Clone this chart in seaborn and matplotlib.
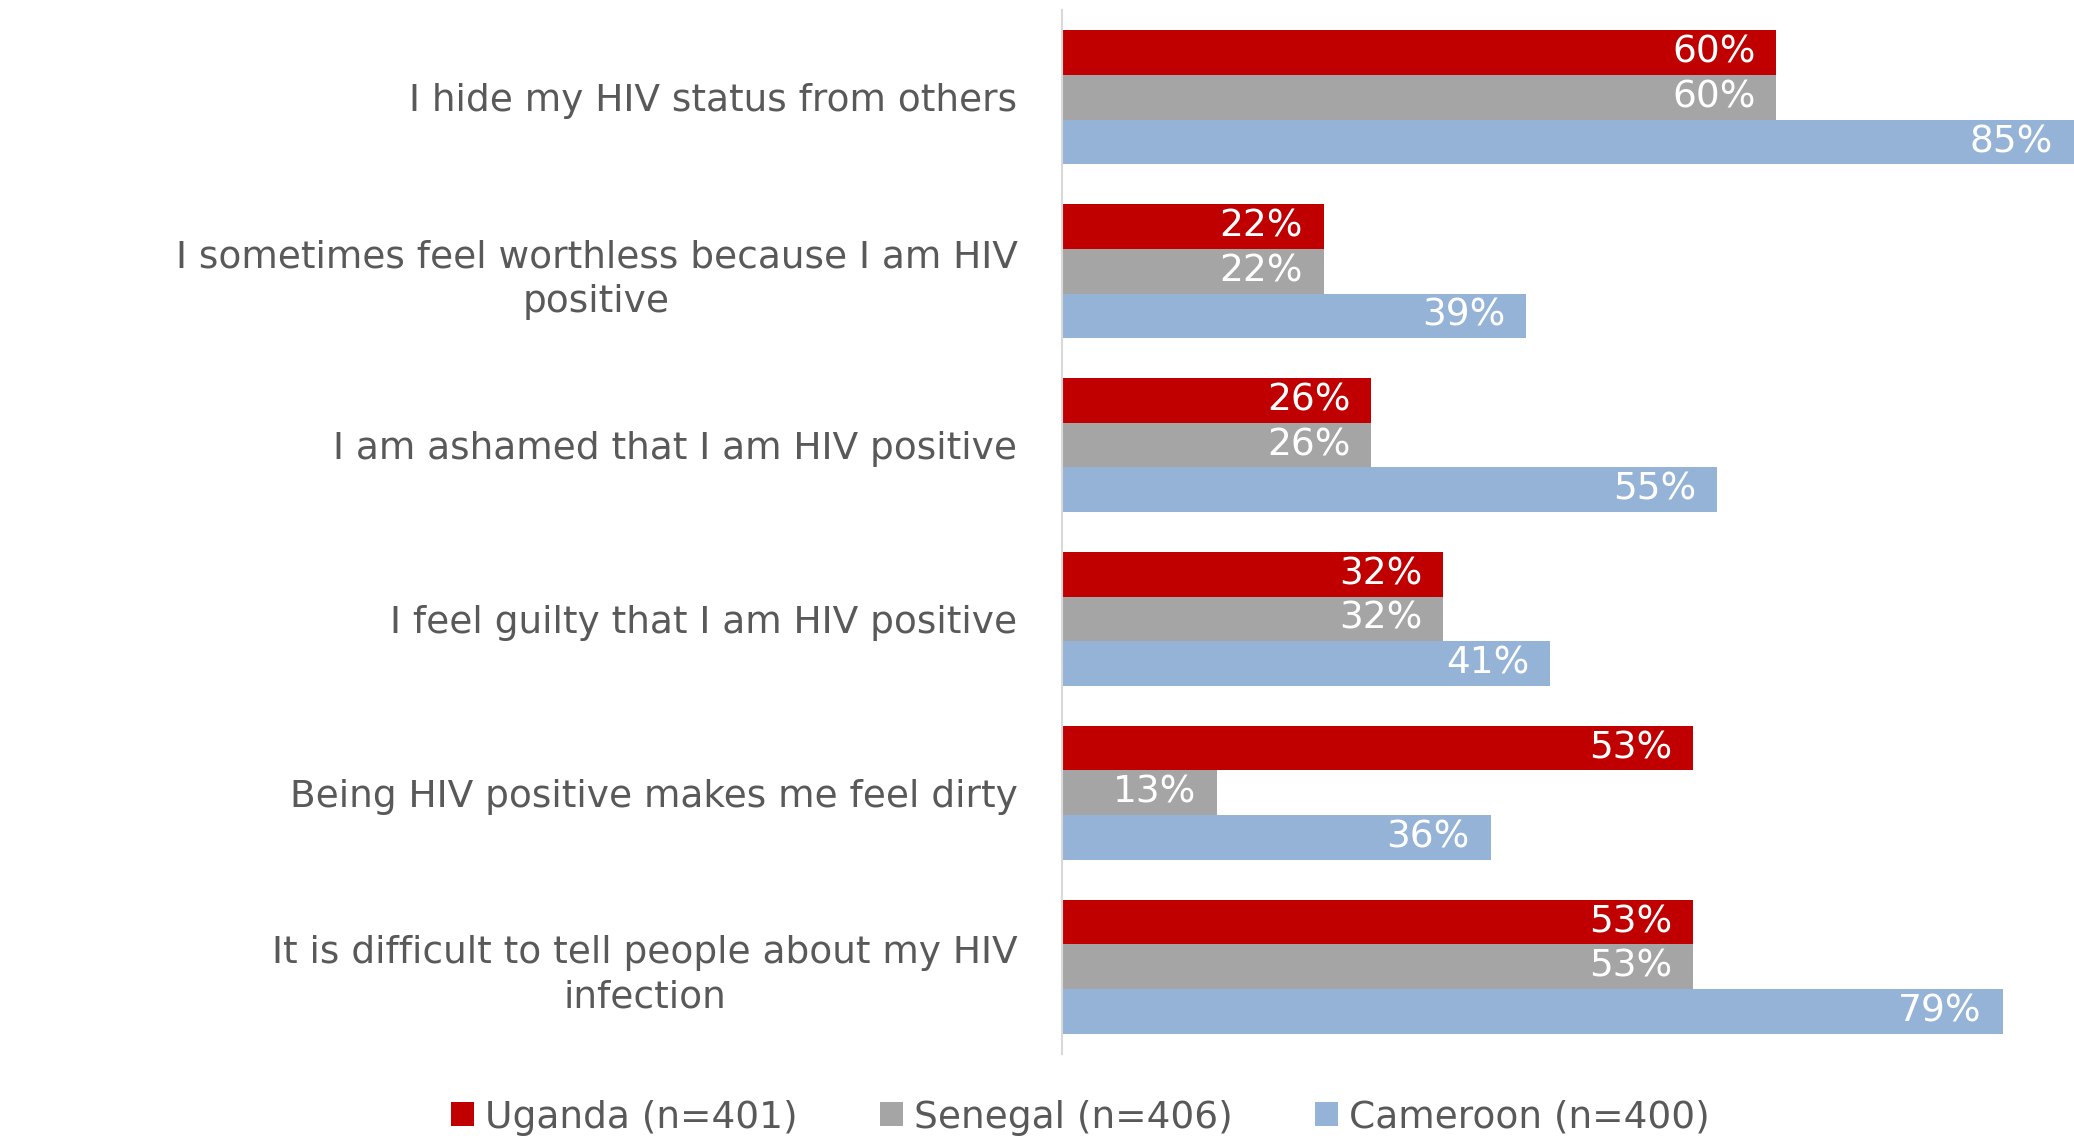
import matplotlib
matplotlib.use("Agg")
import matplotlib.pyplot as plt
import seaborn as sns
import pandas as pd
from matplotlib.patches import Patch

categories = [
    "I hide my HIV status from others",
    "I sometimes feel worthless because I am HIV\npositive",
    "I am ashamed that I am HIV positive",
    "I feel guilty that I am HIV positive",
    "Being HIV positive makes me feel dirty",
    "It is difficult to tell people about my HIV\ninfection",
]
series_names = ["Uganda (n=401)", "Senegal (n=406)", "Cameroon (n=400)"]
uganda = [60, 22, 26, 32, 53, 53]
senegal = [60, 22, 26, 32, 13, 53]
cameroon = [85, 39, 55, 41, 36, 79]
colors = ["#C00000", "#A5A5A5", "#95B3D7"]

rows = []
for name, vals in zip(series_names, [uganda, senegal, cameroon]):
    for c, v in zip(categories, vals):
        rows.append({"category": c, "country": name, "value": v})
df = pd.DataFrame(rows)

sns.set_style("white")
plt.rcParams["font.family"] = ["DejaVu Sans"]
text_color = "#595959"
fs = 27

fig = plt.figure(figsize=(20.74, 11.38), dpi=100)
ax = fig.add_axes([0.512, 0.074, 0.488, 0.917])

sns.barplot(data=df, y="category", x="value", hue="country", order=categories,
            hue_order=series_names, palette=colors, orient="h", width=0.773,
            saturation=1, ax=ax, legend=False, errorbar=None, linewidth=0)

ax.set_xlim(0, 85)
ax.set_ylim(len(categories) - 0.5, -0.5)
ax.set_xlabel("")
ax.set_ylabel("")
ax.set_xticks([])
for s in ["top", "right", "bottom"]:
    ax.spines[s].set_visible(False)
ax.spines["left"].set_color("#D9D9D9")
ax.spines["left"].set_linewidth(1.5)
ax.tick_params(axis="y", length=0, pad=32, labelsize=fs, labelcolor=text_color)
for lab in ax.get_yticklabels():
    lab.set_multialignment("center")
    lab.set_linespacing(1.3)

for cont in ax.containers:
    for p in cont.patches:
        w = p.get_width()
        ax.annotate(f"{w:.0f}%", xy=(w, p.get_y() + p.get_height() / 2),
                    xytext=(-15, 0), textcoords="offset points",
                    ha="right", va="center", color="white", fontsize=fs)

handles = [Patch(facecolor=c, edgecolor="none") for c in colors]
fig.legend(handles, series_names, loc="center", bbox_to_anchor=(0.521, 0.018),
           ncol=3, frameon=False, fontsize=fs, labelcolor=text_color,
           handlelength=0.6, handleheight=0.6, handletextpad=0.3, columnspacing=2.2)

fig.savefig("out.png", dpi=100)
